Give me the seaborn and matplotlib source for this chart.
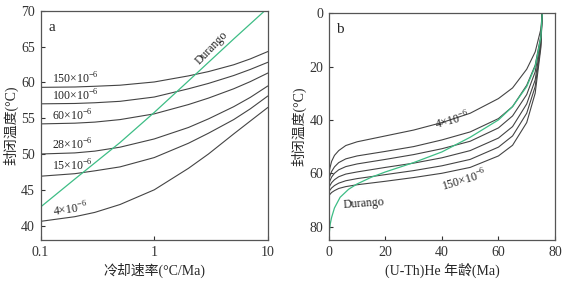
import numpy as np
import pandas as pd
import matplotlib
matplotlib.use("Agg")
import matplotlib.pyplot as plt
import seaborn as sns

# panel a: closure temperature vs cooling rate
rate = [0.1, 0.2, 0.3, 0.5, 1, 2, 3, 5, 7, 10]
tc_150 = [59.3, 59.35, 59.45, 59.6, 60.05, 60.9, 61.5, 62.45, 63.27, 64.3]
tc_100 = [57.0, 57.05, 57.15, 57.35, 57.95, 59.1, 59.85, 60.95, 61.8, 62.8]
tc_60 = [54.2, 54.3, 54.45, 54.8, 55.6, 56.9, 57.8, 59.1, 60.1, 61.3]
tc_28 = [50.0, 50.15, 50.4, 50.95, 52.1, 53.7, 54.9, 56.6, 57.9, 59.5]
tc_15 = [46.9, 47.25, 47.65, 48.2, 49.5, 51.5, 52.9, 54.8, 56.3, 58.1]
tc_4 = [40.6, 41.25, 41.85, 42.95, 45.0, 48.0, 50.0, 52.8, 54.6, 56.5]
dur_rate = [0.1, 0.2, 0.5, 1, 2, 5, 9.4]
dur_tc = [42.6, 46.5, 51.6, 55.8, 60.2, 66.05, 70.0]

# panel b: closure temperature vs (U-Th)He age
age = [0, 0.4, 1, 2, 3.5, 6, 10, 20, 30, 40, 50, 60, 65, 70, 73, 75, 75.5]
b_4 = [60.5, 58.0, 55.5, 53.3, 51.5, 49.6, 48.2, 46.0, 43.8, 41.0, 37.5, 32.0, 28.0, 21.0, 14.5, 6.0, 0]
b_15 = [62.5, 61.0, 59.3, 57.6, 56.0, 54.6, 53.5, 51.8, 50.0, 47.5, 44.5, 39.5, 35.0, 27.0, 19.5, 8.5, 0]
b_28 = [64.0, 62.8, 61.4, 60.0, 58.7, 57.5, 56.5, 54.8, 53.0, 50.8, 48.0, 43.0, 38.5, 30.5, 22.0, 9.5, 0]
b_60 = [65.5, 64.6, 63.5, 62.4, 61.3, 60.3, 59.5, 57.8, 56.2, 54.2, 51.5, 46.8, 42.5, 34.0, 25.0, 11.0, 0]
b_100 = [67.0, 66.3, 65.5, 64.6, 63.7, 62.8, 62.0, 60.5, 59.0, 57.2, 54.8, 50.2, 46.0, 37.5, 27.5, 12.0, 0]
b_150 = [68.5, 67.9, 67.2, 66.5, 65.7, 65.0, 64.3, 63.0, 61.6, 60.0, 57.8, 53.5, 49.5, 41.0, 30.0, 13.0, 0]
dur_age = [0, 0.5, 1, 2, 4, 7, 10, 15, 20, 30, 40, 50, 60, 65, 70, 73, 75, 75.5]
dur_b = [84, 79, 76.5, 73, 69, 66, 64, 61.5, 59.5, 56, 52, 46.5, 40, 35, 27.5, 20, 9, 0]

conc = ["4", "15", "28", "60", "100", "150"]

sns.set_theme(style="ticks")
plt.rcParams["font.family"] = ["Liberation Serif", "Noto Sans CJK SC"]
plt.rcParams["mathtext.fontset"] = "custom"
plt.rcParams["mathtext.rm"] = "Liberation Serif"
plt.rcParams["axes.edgecolor"] = "#555555"
plt.rcParams["axes.linewidth"] = 0.9

black = "#444444"
green = "#3dbd85"

df_a = pd.DataFrame({
    "rate": rate * 6,
    "tc": tc_4 + tc_15 + tc_28 + tc_60 + tc_100 + tc_150,
    "conc": sum([[c] * len(rate) for c in conc], []),
})
df_b = pd.DataFrame({
    "age": age * 6,
    "tc": b_4 + b_15 + b_28 + b_60 + b_100 + b_150,
    "conc": sum([[c] * len(age) for c in conc], []),
})

fig = plt.figure(figsize=(5.64, 2.81), dpi=100)
ax1 = fig.add_axes([0.072, 0.146, 0.403, 0.816])
ax2 = fig.add_axes([0.583, 0.146, 0.401, 0.807])

# ---- panel a
sns.lineplot(data=df_a, x="rate", y="tc", units="conc", estimator=None,
             color=black, lw=0.8, ax=ax1)
sns.lineplot(x=dur_rate, y=dur_tc, color=green, lw=0.9, ax=ax1)
ax1.set_xscale("log")
ax1.set_xlim(0.1, 10)
ax1.set_ylim(38, 70)
ax1.set_xticks([0.1, 1, 10])
ax1.set_xticklabels(["0.1", "1", "10"])
ax1.minorticks_off()
ax1.set_yticks([40, 45, 50, 55, 60, 65, 70])
ax1.set_xlabel("冷却速率(°C/Ma)", fontsize=10, labelpad=3)
ax1.set_ylabel("封闭温度(°C)", fontsize=10, labelpad=2)
ax1.text(0.035, 0.955, "a", transform=ax1.transAxes, fontsize=11, va="top")

lab_a = [("150", 60.5, 0), ("100", 58.1, 0), ("60", 55.3, 0),
         ("28", 51.3, 0), ("15", 48.3, 0), ("4", 42.2, 8)]
for c, y, r in lab_a:
    ax1.text(0.125, y, c + "×10$^{-6}$", fontsize=8.5, va="center", ha="left",
             rotation=r, color="#222222")
ax1.text(3.2, 64.8, "Durango", fontsize=8.5, rotation=46, ha="center",
         va="center", color="#222222")

# ---- panel b
sns.lineplot(data=df_b, x="age", y="tc", units="conc", estimator=None,
             color=black, lw=0.8, sort=False, ax=ax2)
sns.lineplot(x=dur_age, y=dur_b, color=green, lw=0.9, sort=False, ax=ax2)
ax2.set_xlim(0, 80)
ax2.set_ylim(85, 0)
ax2.set_xticks([0, 20, 40, 60, 80])
ax2.set_yticks([0, 20, 40, 60, 80])
ax2.set_xlabel("(U-Th)He 年龄(Ma)", fontsize=10, labelpad=3)
ax2.set_ylabel("封闭温度(°C)", fontsize=10, labelpad=2)
ax2.text(0.03, 0.955, "b", transform=ax2.transAxes, fontsize=11, va="top")
ax2.text(43.5, 40.3, "4×10$^{-6}$", fontsize=8.5, rotation=15, ha="center",
         va="center", color="#222222")
ax2.text(48, 62.5, "150×10$^{-6}$", fontsize=8.5, rotation=17, ha="center",
         va="center", color="#222222")
ax2.text(12.5, 71.5, "Durango", fontsize=8.5, rotation=4, ha="center",
         va="center", color="#222222")

for ax in (ax1, ax2):
    ax.tick_params(direction="in", length=3, width=0.8, labelsize=10,
                   colors="#333333", pad=4)
    for s in ax.spines.values():
        s.set_visible(True)

fig.savefig("out.png", dpi=100)
